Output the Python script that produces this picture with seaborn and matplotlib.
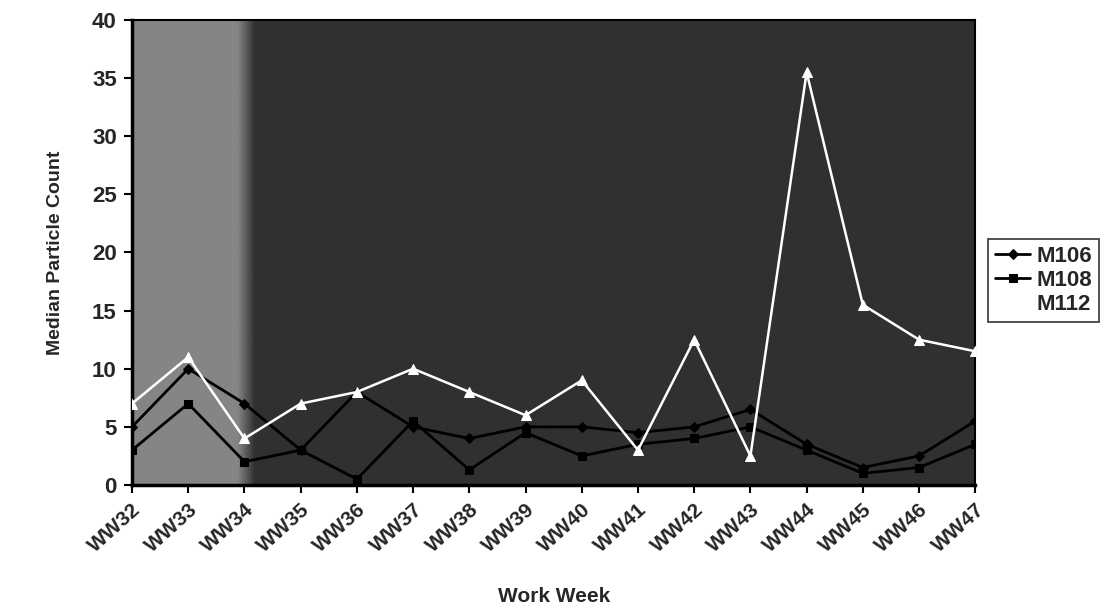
import numpy as np
import pandas as pd
import matplotlib
matplotlib.use("Agg")
import matplotlib.pyplot as plt
import seaborn as sns

weeks = ["WW32", "WW33", "WW34", "WW35", "WW36", "WW37", "WW38", "WW39",
         "WW40", "WW41", "WW42", "WW43", "WW44", "WW45", "WW46", "WW47"]
m106 = [5, 10, 7, 3, 8, 5, 4, 5, 5, 4.5, 5, 6.5, 3.5, 1.5, 2.5, 5.5]
m108 = [3, 7, 2, 3, 0.5, 5.5, 1.3, 4.5, 2.5, 3.5, 4, 5, 3, 1, 1.5, 3.5]
m112 = [7, 11, 4, 7, 8, 10, 8, 6, 9, 3, 12.5, 2.5, 35.5, 15.5, 12.5, 11.5]
y_ticks = [0, 5, 10, 15, 20, 25, 30, 35, 40]

sns.set_theme(style="white")
plt.rcParams["font.family"] = ["Liberation Sans", "DejaVu Sans"]

df = pd.DataFrame({"week": weeks, "M106": m106, "M108": m108, "M112": m112})

fig = plt.figure(figsize=(11.02, 6.15), dpi=100)
ax = fig.add_axes([0.1198, 0.2114, 0.7652, 0.7561])

# shaded plot-area background: lighter band on the left, dark grey elsewhere
grad = np.linspace(0, 1, 800)
shade = np.clip((grad - 0.125) / 0.02, 0, 1)
bg = 0.52 - 0.33 * shade
ax.imshow(np.tile(bg, (10, 1)), cmap="gray", vmin=0, vmax=1, aspect="auto",
          extent=[0, 15, 0, 40], zorder=0, interpolation="bilinear")

sns.lineplot(data=df, x="week", y="M106", ax=ax, color="black", lw=2,
             marker="D", markersize=5, markeredgecolor="black",
             label="M106", zorder=3, sort=False)
sns.lineplot(data=df, x="week", y="M108", ax=ax, color="black", lw=2,
             marker="s", markersize=6, markeredgecolor="black",
             label="M108", zorder=3, sort=False)
sns.lineplot(data=df, x="week", y="M112", ax=ax, color="white", lw=1.8,
             marker="^", markersize=7, markeredgecolor="white",
             label="M112", zorder=4, sort=False)

ax.set_xlim(0, 15)
ax.set_ylim(0, 40)
ax.set_yticks(y_ticks)
ax.set_yticklabels([str(t) for t in y_ticks], fontsize=16, fontweight="bold")
ax.set_xticks(range(len(weeks)))
ax.set_xticklabels(weeks, rotation=42, ha="right", rotation_mode="anchor",
                   fontsize=15, fontweight="bold")
ax.tick_params(axis="both", direction="out", length=6, width=1.5,
               color="black", bottom=True, left=True, pad=5)
for s in ax.spines.values():
    s.set_color("black")
    s.set_linewidth(1.5)
ax.spines["left"].set_linewidth(2.5)
ax.spines["bottom"].set_linewidth(2.5)

ax.set_xlabel("Work Week", fontsize=15, fontweight="bold", labelpad=22)
ax.set_ylabel("Median Particle Count", fontsize=14, fontweight="bold", labelpad=20)

leg = ax.legend(loc="center left", bbox_to_anchor=(1.002, 0.44), frameon=True,
                fancybox=False, edgecolor="black", fontsize=16, handlelength=1.6,
                handletextpad=0.3, borderpad=0.3, labelspacing=0.15)
leg.get_frame().set_linewidth(1.2)
for t in leg.get_texts():
    t.set_fontweight("bold")

fig.savefig("out.png", dpi=100, facecolor="white")
